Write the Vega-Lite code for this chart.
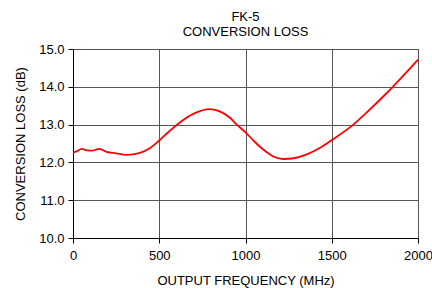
{
  "$schema": "https://vega.github.io/schema/vega-lite/v6.json",
  "autosize": "none",
  "width": 345,
  "height": 189,
  "padding": {"left": 73, "top": 49, "right": 14, "bottom": 50},
  "background": "white",
  "title": {
    "text": ["FK-5", "CONVERSION LOSS"],
    "font": "Liberation Sans",
    "fontSize": 13,
    "fontWeight": "normal",
    "color": "black",
    "offset": 4,
    "lineHeight": 15
  },
  "config": {
    "view": {"stroke": "black", "strokeWidth": 1},
    "axis": {
      "labelFont": "Liberation Sans",
      "titleFont": "Liberation Sans",
      "labelFontSize": 13,
      "titleFontSize": 13,
      "titleFontWeight": "normal",
      "labelColor": "black",
      "titleColor": "black",
      "domainColor": "black",
      "tickColor": "black",
      "gridColor": "#555555",
      "gridOpacity": 1,
      "gridWidth": 1
    }
  },
  "data": {
    "values": [
      {"f": 0, "v": 12.26},
      {"f": 21, "v": 12.29},
      {"f": 50, "v": 12.36},
      {"f": 80, "v": 12.32},
      {"f": 108, "v": 12.31},
      {"f": 153, "v": 12.36},
      {"f": 195, "v": 12.28},
      {"f": 250, "v": 12.24},
      {"f": 311, "v": 12.2},
      {"f": 388, "v": 12.25},
      {"f": 440, "v": 12.36},
      {"f": 500, "v": 12.58},
      {"f": 550, "v": 12.79},
      {"f": 601, "v": 12.99},
      {"f": 700, "v": 13.29},
      {"f": 794, "v": 13.41},
      {"f": 860, "v": 13.33},
      {"f": 910, "v": 13.18},
      {"f": 949, "v": 13.0},
      {"f": 997, "v": 12.81},
      {"f": 1050, "v": 12.56},
      {"f": 1103, "v": 12.34},
      {"f": 1160, "v": 12.16},
      {"f": 1219, "v": 12.09},
      {"f": 1280, "v": 12.11},
      {"f": 1355, "v": 12.21},
      {"f": 1430, "v": 12.38},
      {"f": 1500, "v": 12.59},
      {"f": 1625, "v": 13.0},
      {"f": 1700, "v": 13.31},
      {"f": 1800, "v": 13.75},
      {"f": 1850, "v": 13.98},
      {"f": 1900, "v": 14.22},
      {"f": 1950, "v": 14.47},
      {"f": 2000, "v": 14.72}
    ]
  },
  "mark": {"type": "line", "color": "#ff0000", "strokeWidth": 1.8, "interpolate": "monotone"},
  "encoding": {
    "x": {
      "field": "f",
      "type": "quantitative",
      "scale": {"domain": [0, 2000], "nice": false},
      "axis": {"values": [0, 500, 1000, 1500, 2000], "format": "d", "title": "OUTPUT FREQUENCY (MHz)", "titlePadding": 12, "labelPadding": 6, "tickSize": 5, "labelFlush": false}
    },
    "y": {
      "field": "v",
      "type": "quantitative",
      "scale": {"domain": [10, 15], "nice": false, "zero": false},
      "axis": {"values": [10, 11, 12, 13, 14, 15], "format": ".1f", "title": "CONVERSION LOSS (dB)", "titlePadding": 11, "labelPadding": 4, "tickSize": 5}
    }
  }
}
